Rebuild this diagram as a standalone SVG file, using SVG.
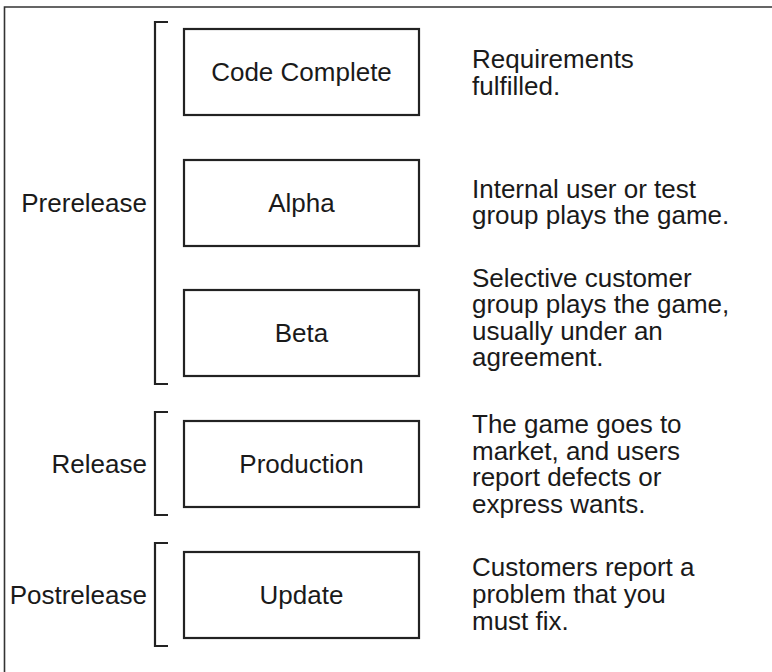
<svg xmlns="http://www.w3.org/2000/svg" width="772" height="672" viewBox="0 0 772 672">
<style>
.box{fill:#fff;stroke:#222;stroke-width:2.2}
.br{fill:none;stroke:#222;stroke-width:2.2}
.frame{fill:none;stroke:#333;stroke-width:1.6}
text{font-family:"Liberation Sans",Arial,Helvetica,sans-serif;font-size:26px;fill:#1a1a1a}
.c{text-anchor:middle}
.r{text-anchor:end}
</style>
<rect width="772" height="672" fill="#fff"/>
<path class="frame" d="M4.5 672 V7 H772"/>
<g id="connectors">
<path class="br" d="M168 22 H155 V384 H168"/>
<path class="br" d="M168 412 H155 V515 H168"/>
<path class="br" d="M168 543 H155 V646 H168"/>
</g>
<g id="phase-prerelease"><text class="r" x="147" y="212">Prerelease</text></g>
<g id="phase-release"><text class="r" x="147" y="473">Release</text></g>
<g id="phase-postrelease"><text class="r" x="147" y="604">Postrelease</text></g>
<g id="code-complete">
<rect class="box" x="184" y="29" width="235" height="86"/>
<text class="c" x="301.5" y="81">Code Complete</text>
<text x="472" y="68">Requirements</text>
<text x="472" y="95">fulfilled.</text>
</g>
<g id="alpha">
<rect class="box" x="184" y="160" width="235" height="86"/>
<text class="c" x="301.5" y="212">Alpha</text>
<text x="472" y="198">Internal user or test</text>
<text x="472" y="224">group plays the game.</text>
</g>
<g id="beta">
<rect class="box" x="184" y="290" width="235" height="86"/>
<text class="c" x="301.5" y="342">Beta</text>
<text x="472" y="287">Selective customer</text>
<text x="472" y="313">group plays the game,</text>
<text x="472" y="340">usually under an</text>
<text x="472" y="366">agreement.</text>
</g>
<g id="production">
<rect class="box" x="184" y="421" width="235" height="86"/>
<text class="c" x="301.5" y="473">Production</text>
<text x="472" y="433">The game goes to</text>
<text x="472" y="460">market, and users</text>
<text x="472" y="486">report defects or</text>
<text x="472" y="513">express wants.</text>
</g>
<g id="update">
<rect class="box" x="184" y="552" width="235" height="86"/>
<text class="c" x="301.5" y="604">Update</text>
<text x="472" y="576">Customers report a</text>
<text x="472" y="603">problem that you</text>
<text x="472" y="630">must fix.</text>
</g>
</svg>
